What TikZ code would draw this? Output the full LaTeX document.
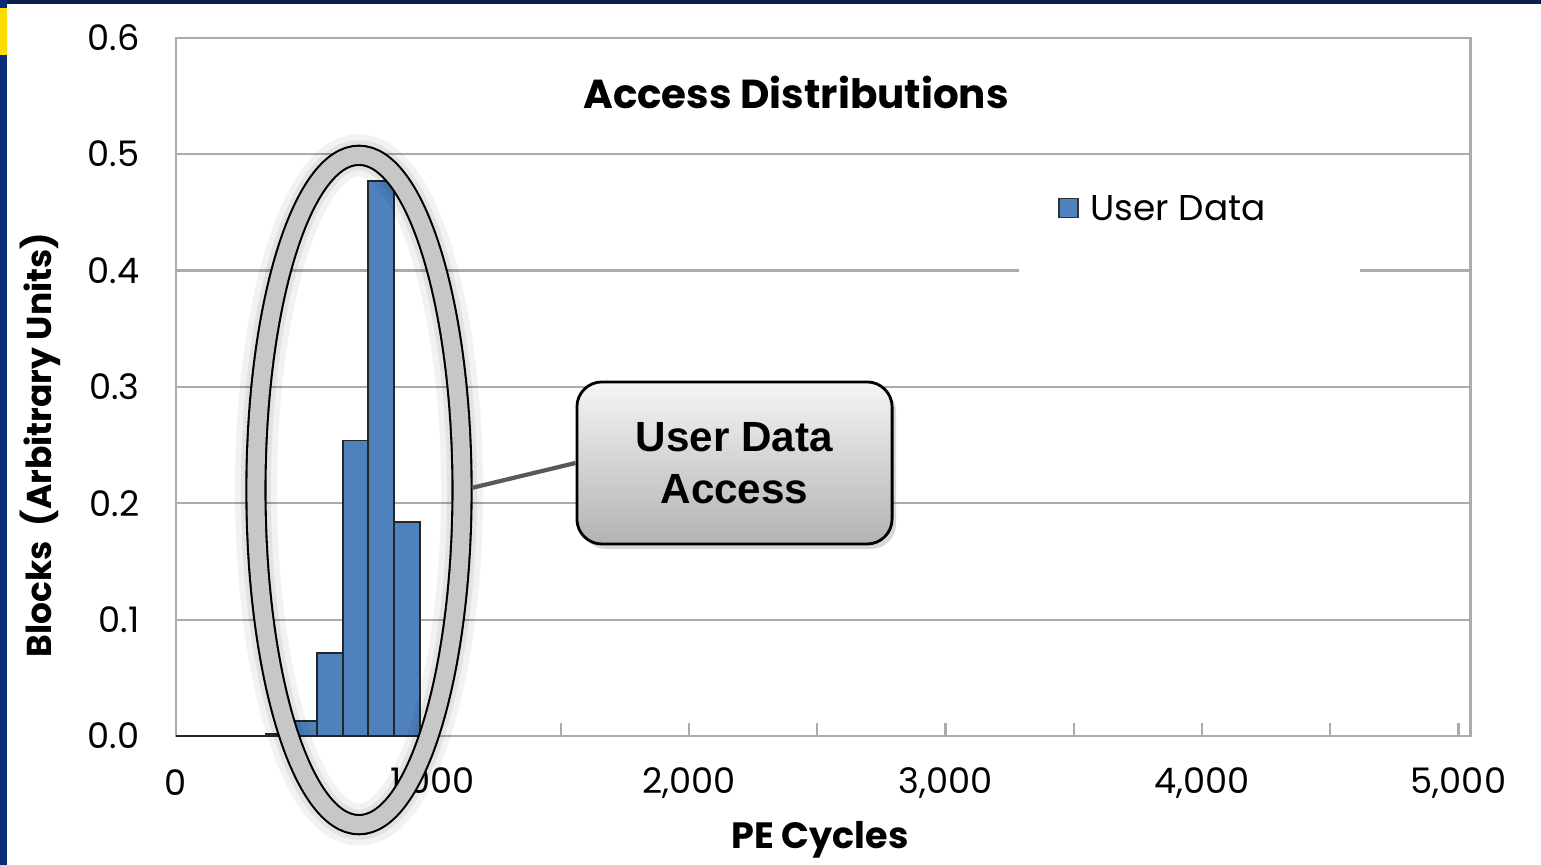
\documentclass[tikz,border=0pt]{standalone}
\usepackage{fontspec}
\setmainfont{Poppins}
\newfontfamily\calloutfont{Liberation Sans}
\usetikzlibrary{positioning,shapes.geometric,shadows}

\definecolor{barblue}{HTML}{4F81BD}
\definecolor{gridgray}{HTML}{ABABAB}
\definecolor{slidenavy}{HTML}{0B1F4F}
\definecolor{slideblue}{HTML}{0A2C78}
\definecolor{linkgray}{HTML}{595959}

\tikzset{
    gridline/.style={draw=gridgray, line width=0.6pt},
    databar/.style={fill=barblue, draw=black!85, line width=0.5pt},
    ticklabel/.style={inner sep=0pt, font=\fontsize{10}{12}\selectfont},
    axistitle/.style={inner sep=0pt, font=\bfseries\fontsize{10.4}{12}\selectfont},
    ringmark/.style={ellipse, inner sep=0pt, minimum width=2.06cm, minimum height=6.69cm,
        draw=black, line width=0.6pt, double=black!22, double distance=0.17cm},
    calloutbox/.style={rectangle, rounded corners=0.25cm, draw=black, line width=0.8pt,
        top color=black!4, bottom color=black!30, minimum width=3.15cm, minimum height=1.62cm,
        align=center, drop shadow={shadow xshift=0.04cm, shadow yshift=-0.05cm, opacity=0.3},
        font=\calloutfont\bfseries\fontsize{12}{14.8}\selectfont},
    legendkey/.style={rectangle, fill=barblue, draw=black!80, line width=0.5pt,
        minimum size=0.19cm, inner sep=0pt}
}

\begin{document}
\begin{tikzpicture}[x=0.01cm, y=-0.01cm]
    \useasboundingbox (0,0) rectangle (1541,865);

    % Slide frame
    \fill[white] (0,0) rectangle (1541,865);
    \fill[slidenavy] (0,0) rectangle (1541,4);
    \fill[slideblue] (0,0) rectangle (7,865);
    \fill[yellow!80!orange] (0,8) rectangle (7,55);

    % Plot area in data coordinates (PE cycles, blocks)
    \begin{scope}[shift={(176,736)}, x=0.00257cm, y=11.63cm]
        \foreach \y in {0.1, 0.2, ..., 0.5} {
            \draw[gridline] (0,\y) -- (5047,\y);
        }
        \draw[gridline] (0,0) rectangle (5047,0.6);
        \foreach \x in {500, 1000, ..., 5000} {
            \draw[gridline] (\x,0) -- (\x,0.011);
        }

        % Histogram
        \draw[black!85, line width=0.8pt] (0,0) -- (350,0);
        \foreach \lo/\h in {350/0.002, 450/0.013, 550/0.071, 650/0.254, 750/0.477, 850/0.184} {
            \draw[databar] (\lo,0) rectangle ++(100,\h);
        }

        % Tick labels
        \foreach \y in {0.0, 0.1, 0.2, 0.3, 0.4, 0.5, 0.6} {
            \node[ticklabel, anchor=east] (ylab-\y) at (-140,\y) {\y};
        }
        \foreach \x/\t in {0/0, 1000/{1,000}, 2000/{2,000}, 3000/{3,000}, 4000/{4,000}, 5000/{5,000}} {
            \node[ticklabel] (xlab-\x) at (\x,-0.0404) {\t};
        }
    \end{scope}

    % Titles
    \node[inner sep=0pt, font=\bfseries\fontsize{11.5}{14}\selectfont] (title) at (796,92) {Access Distributions};
    \node[axistitle] (xtitle) at (820,840) {PE Cycles};
    \node[axistitle, rotate=90, font=\bfseries\fontsize{9.8}{12}\selectfont] (ytitle) at (40,445) {Blocks~ (Arbitrary Units)};

    % Legend
    \fill[white] (1019,165) rectangle (1360,282);
    \node[legendkey] (key) at (1068.5,208) {};
    \node[inner sep=0pt, anchor=west, right=0.11cm of key, font=\fontsize{10.2}{12}\selectfont] (keytext) {User Data};

    % Callout
    \node[calloutbox] (callout) at (734.5,463) {User Data\\Access};
    \coordinate (ringc) at (359,490);
    \draw[black, opacity=0.05, line width=0.42cm] (ringc) ellipse [x radius=1.03cm, y radius=3.345cm];
    \draw[black, opacity=0.06, line width=0.3cm] (ringc) ellipse [x radius=1.03cm, y radius=3.345cm];
    \node[ringmark] (ring) at (ringc) {};
    \draw[linkgray, line width=1.2pt, shorten <=0.09cm] (ring.east) -- (callout.west);
\end{tikzpicture}
\end{document}
